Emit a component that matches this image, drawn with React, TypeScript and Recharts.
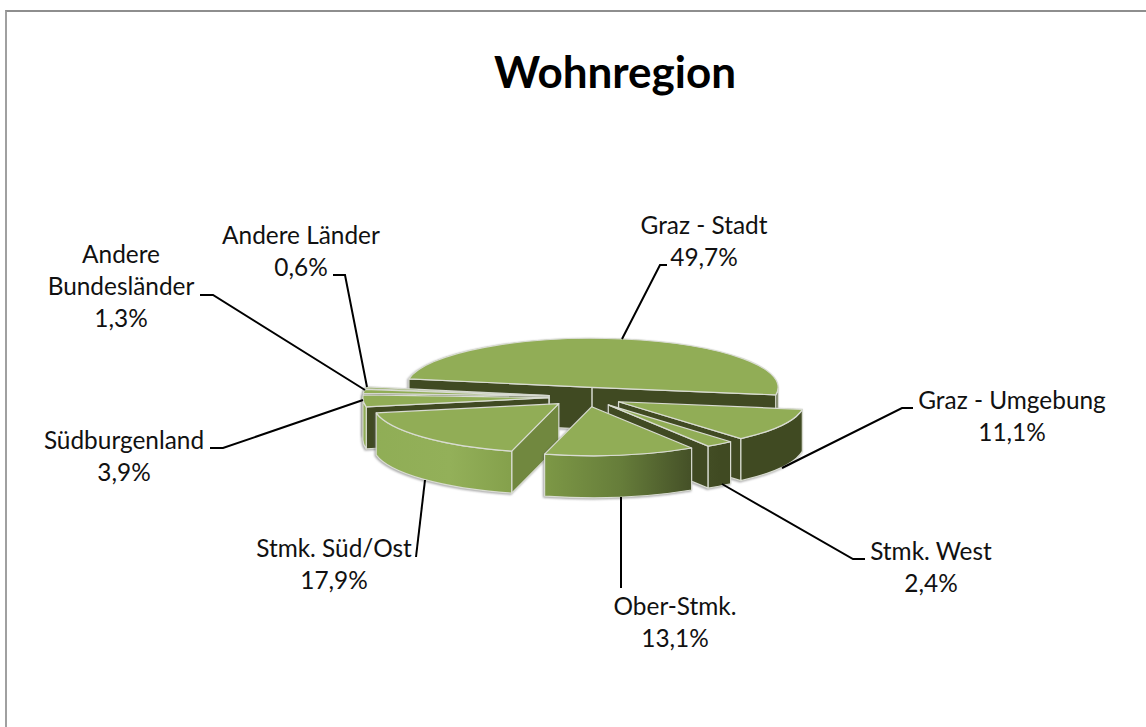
import React from 'react';
import { PieChart, Pie } from 'recharts';

const categories = ['Graz - Stadt', 'Graz - Umgebung', 'Stmk. West', 'Ober-Stmk.', 'Stmk. Süd/Ost', 'Südburgenland', 'Andere Bundesländer', 'Andere Länder'];
const shares = [49.7, 11.1, 2.4, 13.1, 17.9, 3.9, 1.3, 0.6];
const paintOrder = ['Graz - Stadt', 'Andere Länder', 'Andere Bundesländer', 'Südburgenland', 'Stmk. Süd/Ost', 'Graz - Umgebung', 'Stmk. West', 'Ober-Stmk.'];
const rows = categories.map((name, i) => ({ name, value: shares[i] }));

const SQUASH = 0.2634;
const EXPLODE = 0.2;
const DEPTH = 42;
const TOP = '#91AD56';
const DARK = '#404A22';
const LIT_FACE = '#71883F';
const EDGE = '#D9DCD2';

const labelLayout: Record<string, { lines: string[]; x: number; y: number; leader: number[][] }> = {
  'Graz - Stadt': { lines: ['Graz - Stadt'], x: 704, y: 226, leader: [[622, 339], [660, 265], [667, 265]] },
  'Graz - Umgebung': { lines: ['Graz - Umgebung'], x: 1012, y: 401, leader: [[782, 468], [902, 408], [913, 408]] },
  'Stmk. West': { lines: ['Stmk. West'], x: 931, y: 552, leader: [[722, 484], [853, 559], [865, 559]] },
  'Ober-Stmk.': { lines: ['Ober-Stmk.'], x: 675, y: 607, leader: [[621, 497], [621, 588]] },
  'Stmk. Süd/Ost': { lines: ['Stmk. Süd/Ost'], x: 334, y: 549, leader: [[425, 480], [416, 557]] },
  'Südburgenland': { lines: ['Südburgenland'], x: 124, y: 441, leader: [[363, 400], [223, 448], [210, 448]] },
  'Andere Bundesländer': { lines: ['Andere', 'Bundesländer'], x: 121, y: 255, leader: [[365, 390], [213, 295], [200, 295]] },
  'Andere Länder': { lines: ['Andere Länder'], x: 301, y: 236, leader: [[367, 387], [345, 275], [333, 275]] },
};

const fmt = (v: number) => v.toFixed(1).replace('.', ',') + '%';

function slice3D(only: string) {
  return (p: any) => {
    if (p.name !== only) return <g />;
    const R = p.outerRadius;
    const r = R * SQUASH;
    let a0 = -p.startAngle;
    let a1 = -p.endAngle;
    if (a0 < 0) { a0 += 360; a1 += 360; }
    const mid = (((a0 + a1) / 2) * Math.PI) / 180;
    const ax = p.cx + EXPLODE * R * Math.cos(mid);
    const ay = p.cy + EXPLODE * r * Math.sin(mid);
    const pt = (deg: number, dy = 0) => {
      const t = (deg * Math.PI) / 180;
      return [ax + R * Math.cos(t), ay + r * Math.sin(t) + dy];
    };
    const arcTo = (deg: number, dy: number, sweep: number) => {
      const q = pt(deg, dy);
      return `A${R} ${r} 0 0 ${sweep} ${q[0]} ${q[1]}`;
    };
    const faces: React.ReactNode[] = [];
    const addFace = (deg: number, normal: number, key: string) => {
      if (Math.sin((normal * Math.PI) / 180) <= 0) return;
      const q = pt(deg);
      const n = ((normal % 360) + 360) % 360;
      faces.push(
        <path key={key} d={`M${ax} ${ay}L${q[0]} ${q[1]}L${q[0]} ${q[1] + DEPTH}L${ax} ${ay + DEPTH}Z`}
          fill={n < 60 ? LIT_FACE : DARK} stroke={EDGE} strokeWidth={1.2} strokeLinejoin="round" />
      );
    };
    addFace(a0, a0 - 90, 's');
    addFace(a1, a1 + 90, 'e');
    const walls: React.ReactNode[] = [];
    [[0, 180], [360, 540]].forEach(([lo, hi]) => {
      const s = Math.max(a0, lo);
      const e = Math.min(a1, hi);
      if (e <= s) return;
      const ps = pt(s);
      const pe = pt(e, DEPTH);
      const d = `M${ps[0]} ${ps[1]}${arcTo(e, 0, 1)}L${pe[0]} ${pe[1]}${arcTo(s, DEPTH, 0)}Z`;
      walls.push(<path key={lo} d={d} fill={`url(#wall-${only.replace(/[^A-Za-z]/g, '')})`} stroke={EDGE} strokeWidth={1.2} strokeLinejoin="round" />);
    });
    const p0 = pt(a0);
    const large = a1 - a0 > 180 ? 1 : 0;
    const p1 = pt(a1);
    return (
      <g style={{ filter: 'drop-shadow(-1px 1px 1px rgba(90,90,90,0.55))' }}>
        <defs>
          <linearGradient id={`wall-${only.replace(/[^A-Za-z]/g, '')}`} gradientUnits="userSpaceOnUse" x1={360} x2={810} y1={0} y2={0}>
            <stop offset="0" stopColor="#8FAD55" />
            <stop offset="0.2" stopColor="#93B059" />
            <stop offset="0.34" stopColor="#84A04B" />
            <stop offset="0.41" stopColor="#7D9846" />
            <stop offset="0.58" stopColor="#667D3A" />
            <stop offset="0.73" stopColor="#465228" />
            <stop offset="0.8" stopColor={DARK} />
            <stop offset="1" stopColor={DARK} />
          </linearGradient>
        </defs>
        {faces}
        {walls}
        <path d={`M${ax} ${ay}L${p0[0]} ${p0[1]}A${R} ${r} 0 ${large} 1 ${p1[0]} ${p1[1]}Z`} fill={TOP} stroke={EDGE} strokeWidth={1.2} strokeLinejoin="round" />
      </g>
    );
  };
}

function renderLabel(p: any) {
  const l = labelLayout[p.name];
  if (!l) return null;
  const all = [...l.lines, fmt(p.value)];
  return (
    <g key={p.name}>
      <polyline points={l.leader.map((q) => q.join(',')).join(' ')} fill="none" stroke="#000" strokeWidth={2} />
      <text x={l.x} y={l.y} textAnchor="middle" fontFamily="Lato, 'Open Sans', sans-serif" fontSize={24.4} fill="#111">
        {all.map((t, i) => (
          <tspan key={i} x={l.x} dy={i === 0 ? 8 : 32}>{t}</tspan>
        ))}
      </text>
    </g>
  );
}

export default function App() {
  return (
    <div style={{ position: 'absolute', left: 0, top: 0, width: 1146, height: 727, background: '#fff', overflow: 'hidden' }}>
      <div style={{ position: 'absolute', left: 5, top: 10, width: 1200, height: 760, borderLeft: '2px solid #A0A0A0', borderTop: '2px solid #8E8E8E', boxSizing: 'border-box' }} />
      <div style={{ position: 'absolute', left: 0, top: 43, width: 1230, textAlign: 'center', fontFamily: "Lato, 'Open Sans', sans-serif", fontWeight: 700, fontSize: 44, lineHeight: '56px', color: '#000' }}>Wohnregion</div>
      <div style={{ position: 'absolute', left: 0, top: 0 }}>
        <PieChart width={1146} height={727} margin={{ top: 0, right: 0, bottom: 0, left: 0 }}>
          {paintOrder.map((name, i) => (
            <Pie
              key={name}
              data={rows}
              dataKey="value"
              nameKey="name"
              cx={586}
              cy={397}
              outerRadius={186}
              startAngle={170}
              endAngle={-190}
              isAnimationActive={false}
              shape={slice3D(name)}
              label={i === paintOrder.length - 1 ? renderLabel : false}
              labelLine={false}
            />
          ))}
        </PieChart>
      </div>
    </div>
  );
}
